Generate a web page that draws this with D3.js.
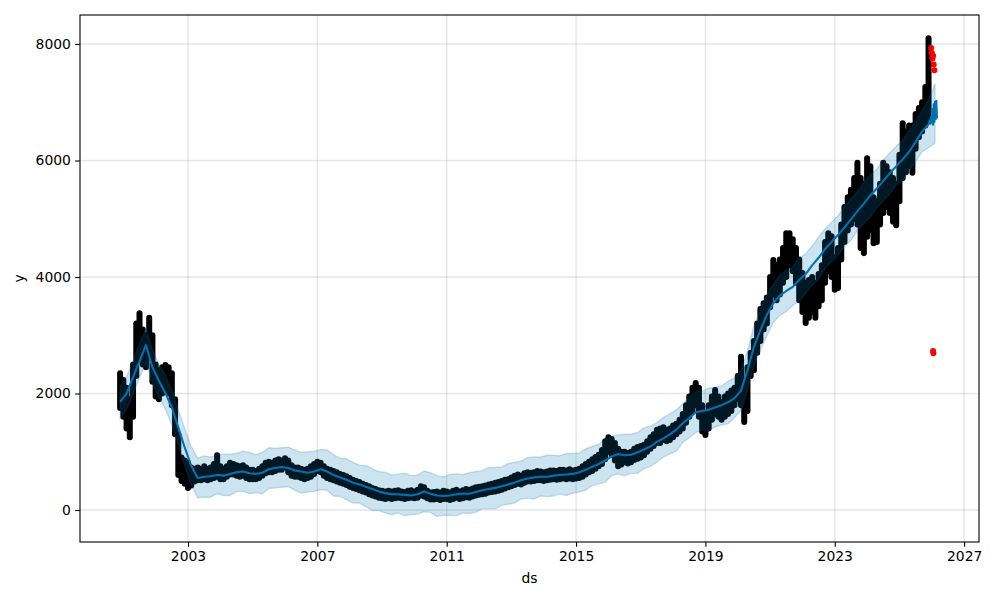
<!DOCTYPE html>
<html><head><meta charset="utf-8">
<script src="https://cdn.jsdelivr.net/npm/d3@7"></script>
<style>body{margin:0;background:#fff} svg{display:block} text{font-family:"DejaVu Sans",sans-serif}</style>
</head><body><svg id="c" width="1000" height="600"></svg>
<script>
const actualStart = 2000.9, actualStep = 0.1;
const actualLow = [
1750,
1600, 1400, 1250, 1600, 2300, 2600, 2500, 2450, 2700, 2200,
1950, 1900, 2000, 2050, 2000, 1800, 1300, 600, 500, 450,
380, 420, 490, 510, 510, 530, 510, 530, 550, 570,
530, 530, 570, 610, 610, 590, 570, 590, 550, 530,
530, 530, 550, 590, 630, 650, 650, 670, 690, 690,
730, 650, 590, 570, 570, 550, 530, 550, 570, 620,
670, 650, 590, 550, 530, 510, 490, 470, 450, 430,
400, 380, 360, 340, 320, 300, 270, 250, 230, 210,
200, 190, 200, 190, 200, 210, 200, 190, 200, 210,
200, 210, 250, 230, 200, 180, 180, 190, 170, 190,
190, 170, 190, 210, 190, 200, 220, 210, 230, 250,
260, 270, 280, 300, 310, 320, 330, 350, 370, 390,
410, 430, 450, 440, 470, 490, 490, 500, 510, 510,
500, 510, 520, 530, 520, 530, 540, 530, 540, 530,
540, 550, 570, 610, 650, 670, 710, 750, 790, 870,
1000, 950, 850, 750, 780, 820, 800, 820, 860, 880,
900, 940, 1000, 1050, 1100, 1150, 1150, 1200, 1180, 1200,
1250, 1300, 1350, 1400, 1500, 1600, 1700, 1800, 1600, 1350,
1290, 1400, 1550, 1650, 1600, 1550, 1600, 1650, 1700, 1800,
1900, 1800, 1510, 1700, 2300, 2400, 2700, 2900, 3100, 3200,
3480, 3700, 3600, 3700, 3900, 4000, 4200, 4100, 3900, 3600,
3400, 3210, 3300, 3400, 3300, 3500, 3600, 3900, 4100, 4000,
3780, 3810, 4300, 4600, 4800, 4900, 5000, 4900, 4500, 4410,
4690, 4800, 4580, 4600, 4900, 5100, 5200, 5100, 4950, 4890,
5300, 5700, 5800, 5900, 5790, 6200, 6400, 6500, 6600, 6700
];
const actualHigh = [
2350,
2230, 2100, 1900, 2500, 3200, 3380, 3100, 3000, 3300, 3000,
2500, 2400, 2450, 2490, 2450, 2350, 1900, 1300, 900, 850,
810, 730, 710, 730, 710, 750, 710, 730, 790, 940,
750, 710, 750, 810, 790, 770, 750, 770, 730, 690,
690, 670, 710, 750, 810, 830, 810, 850, 870, 850,
890, 850, 770, 730, 730, 710, 690, 710, 750, 790,
830, 810, 750, 710, 690, 670, 650, 620, 600, 580,
550, 520, 500, 480, 450, 430, 410, 380, 360, 340,
330, 320, 330, 320, 330, 340, 320, 310, 330, 340,
320, 350, 410, 390, 330, 300, 310, 320, 300, 330,
320, 300, 330, 350, 320, 340, 360, 350, 370, 390,
400, 410, 420, 440, 450, 470, 480, 500, 520, 530,
560, 590, 610, 590, 630, 650, 640, 650, 670, 660,
650, 660, 680, 680, 670, 690, 690, 680, 700, 680,
690, 710, 750, 790, 830, 870, 910, 950, 1030, 1180,
1250, 1220, 1150, 1050, 1000, 1000, 980, 1000, 1050, 1080,
1100, 1120, 1180, 1250, 1300, 1380, 1400, 1420, 1380, 1400,
1450, 1480, 1550, 1650, 1800, 1950, 2100, 2180, 2100, 1800,
1650, 1800, 1950, 2060, 1950, 1850, 1950, 2000, 2050, 2100,
2300, 2630, 2200, 2450, 2700, 2900, 3200, 3450, 3550, 3650,
4000, 4290, 4200, 4300, 4500, 4750, 4750, 4650, 4500, 4300,
4070, 3900, 3950, 4000, 3900, 4050, 4200, 4600, 4750, 4700,
4340, 4500, 4900, 5200, 5370, 5500, 5700, 5960, 5700, 5600,
6040, 5900, 5370, 5300, 5600, 5960, 5900, 5800, 5700, 5600,
6100, 6640, 6500, 6600, 6600, 6800, 6900, 7000, 7260, 8100
];

// Forecast (yhat) and uncertainty interval
const forecastStart = 2000.9, forecastStep = 0.2;
const yhat = [1855, 2000, 2280, 2550, 2830, 2450, 2220, 2010, 1760, 1420, 1070, 760, 550, 570, 580, 600, 590, 620, 650, 660,
630, 620, 640, 700, 720, 740, 720, 680, 660, 640, 660, 700, 660, 600, 560, 520, 470, 440, 400, 360,
320, 290, 270, 270, 260, 250, 270, 320, 280, 250, 240, 250, 270, 280, 280, 310, 340, 360, 380, 410,
440, 470, 510, 540, 560, 570, 570, 590, 600, 610, 620, 650, 690, 740, 790, 850, 920, 960, 940, 950,
990, 1040, 1090, 1170, 1230, 1300, 1380, 1490, 1580, 1680, 1700, 1720, 1760, 1800, 1850, 1920, 2050, 2400, 2800, 3090,
3350, 3550, 3680, 3760, 3830, 3950, 4050, 4200, 4330, 4480, 4600, 4720, 4850, 4990, 5130, 5260, 5400, 5520, 5650, 5780,
5900, 6020, 6150, 6320, 6500, 6620, 6800];
const yhatUpper = [2125, 2290, 2550, 2850, 3110, 2750, 2500, 2310, 2050, 1720, 1390, 1090, 890, 930, 910, 950, 960, 960, 970, 1010,
990, 950, 990, 1070, 1060, 1070, 1080, 1030, 990, 1000, 1010, 1040, 1030, 950, 890, 880, 820, 770, 760, 710,
660, 650, 600, 620, 630, 590, 600, 670, 640, 590, 570, 610, 620, 610, 640, 660, 680, 730, 730, 740,
800, 820, 840, 900, 910, 910, 940, 940, 930, 970, 970, 980, 1050, 1090, 1130, 1210, 1270, 1290, 1300, 1300,
1330, 1410, 1440, 1500, 1590, 1650, 1720, 1820, 1940, 2030, 2040, 2090, 2110, 2130, 2210, 2270, 2390, 2730, 3160, 3440,
3690, 3880, 4040, 4110, 4170, 4320, 4400, 4530, 4690, 4830, 4940, 5050, 5210, 5340, 5470, 5630, 5750, 5850, 6010, 6130,
6240, 6350, 6510, 6670, 6860, 7040, 7320];
const yhatLower = [1575, 1730, 1990, 2270, 2530, 2170, 1930, 1730, 1460, 1130, 760, 430, 210, 220, 220, 280, 250, 250, 320, 320,
280, 300, 280, 370, 380, 390, 400, 340, 290, 310, 320, 350, 340, 240, 230, 180, 120, 120, 60, -10,
-10, -50, -80, -50, -100, -80, -70, -30, -40, -110, -90, -90, -100, -50, -60, -40, 20, 20, 20, 80,
100, 120, 190, 200, 190, 240, 230, 240, 280, 250, 290, 310, 340, 420, 450, 480, 590, 620, 590, 630,
630, 710, 750, 820, 910, 960, 1010, 1160, 1240, 1330, 1380, 1360, 1430, 1460, 1480, 1590, 1710, 2050, 2480, 2750,
2990, 3220, 3340, 3410, 3510, 3590, 3720, 3860, 3960, 4150, 4260, 4370, 4530, 4630, 4800, 4920, 5030, 5190, 5310, 5430,
5580, 5660, 5820, 5980, 6150, 6220, 6300];

// Daily forecast tail (weekly seasonality oscillation)
const tailDates = [2025.92, 2025.94, 2025.96, 2025.98, 2026.00, 2026.02, 2026.04, 2026.06, 2026.08, 2026.10, 2026.12, 2026.14, 2026.16];
const tailYhat  = [6640, 6700, 6620, 6760, 6640, 6900, 6600, 6980, 6650, 7020, 6700, 7040, 6720];

// Test points (red)
const testDates  = [2025.98, 2026.00, 2026.02, 2026.04, 2026.06, 2026.08, 2026.04, 2026.05];
const testValues = [7930, 7850, 7750, 7800, 7650, 7550, 2730, 2690];

const xTicks = [2003, 2007, 2011, 2015, 2019, 2023, 2027];
const yTicks = [0, 2000, 4000, 6000, 8000];

const L = 80, R = 979, T = 15, B = 542;
const svg = d3.select('#c');
svg.append('rect').attr('width', 1000).attr('height', 600).attr('fill', '#fff');

const x = d3.scaleLinear().domain([1999.66, 2027.46]).range([L, R]);
const y = d3.scaleLinear().domain([-549, 8498]).range([B, T]);

const actual = actualLow.map((lo, i) => ({t: actualStart + i * actualStep, lo, hi: actualHigh[i]}));
const fc = yhat.map((v, i) => ({t: forecastStart + i * forecastStep, v, lo: yhatLower[i], hi: yhatUpper[i]}));

// grid
const g = svg.append('g');
g.selectAll('.gx').data(xTicks).enter().append('line')
  .attr('x1', d => x(d)).attr('x2', d => x(d)).attr('y1', T).attr('y2', B)
  .attr('stroke', '#808080').attr('stroke-opacity', 0.2).attr('stroke-width', 1.39);
g.selectAll('.gy').data(yTicks).enter().append('line')
  .attr('x1', L).attr('x2', R).attr('y1', d => y(d)).attr('y2', d => y(d))
  .attr('stroke', '#808080').attr('stroke-opacity', 0.2).attr('stroke-width', 1.39);

// observed (each window drawn as a run of dot-sized marks from its low to its high)
svg.append('g').selectAll('line').data(actual).enter().append('line')
  .attr('x1', d => x(d.t)).attr('x2', d => x(d.t))
  .attr('y1', d => y(d.lo)).attr('y2', d => y(d.hi))
  .attr('stroke', '#000').attr('stroke-width', 6).attr('stroke-linecap', 'round');

// forecast line
const line = d3.line().x(d => x(d.t)).y(d => y(d.v));
svg.append('path').datum(fc).attr('d', line).attr('fill', 'none')
  .attr('stroke', '#0072B2').attr('stroke-width', 2.08).attr('stroke-linejoin', 'round');
svg.append('path').datum(tailDates.map((t, i) => ({t, v: tailYhat[i]}))).attr('d', line).attr('fill', 'none')
  .attr('stroke', '#0072B2').attr('stroke-width', 2.08);

// interval band
const area = d3.area().x(d => x(d.t)).y0(d => y(d.lo)).y1(d => y(d.hi));
svg.append('path').datum(fc).attr('d', area)
  .attr('fill', '#0072B2').attr('fill-opacity', 0.2)
  .attr('stroke', '#0072B2').attr('stroke-opacity', 0.2).attr('stroke-width', 1.39);

// test points
svg.append('g').selectAll('circle').data(testDates.map((t, i) => ({t, v: testValues[i]}))).enter().append('circle')
  .attr('cx', d => x(d.t)).attr('cy', d => y(d.v)).attr('r', 3).attr('fill', 'red');

// axes
const fmt = d3.format('d');
const xa = svg.append('g').attr('transform', `translate(0,${B})`)
  .call(d3.axisBottom(x).tickValues(xTicks).tickFormat(fmt).tickSize(4.86).tickPadding(4.2));
const ya = svg.append('g').attr('transform', `translate(${L},0)`)
  .call(d3.axisLeft(y).tickValues(yTicks).tickFormat(fmt).tickSize(4.86).tickPadding(4.2));
[xa, ya].forEach(a => {
  a.select('.domain').remove();
  a.selectAll('line').attr('stroke', '#000').attr('stroke-width', 1.1);
  a.selectAll('text').attr('font-size', '13.9px').attr('fill', '#000').attr('font-family', '"DejaVu Sans", sans-serif');
});
// frame
svg.append('rect').attr('x', L).attr('y', T).attr('width', R - L).attr('height', B - T)
  .attr('fill', 'none').attr('stroke', '#000').attr('stroke-width', 1.1);

svg.append('text').attr('x', (L + R) / 2).attr('y', 583).attr('text-anchor', 'middle')
  .attr('font-size', '13.9px').text('ds');
svg.append('text').attr('transform', `translate(23.5,${(T + B) / 2}) rotate(-90)`).attr('text-anchor', 'middle')
  .attr('font-size', '13.9px').text('y');
</script></body></html>
